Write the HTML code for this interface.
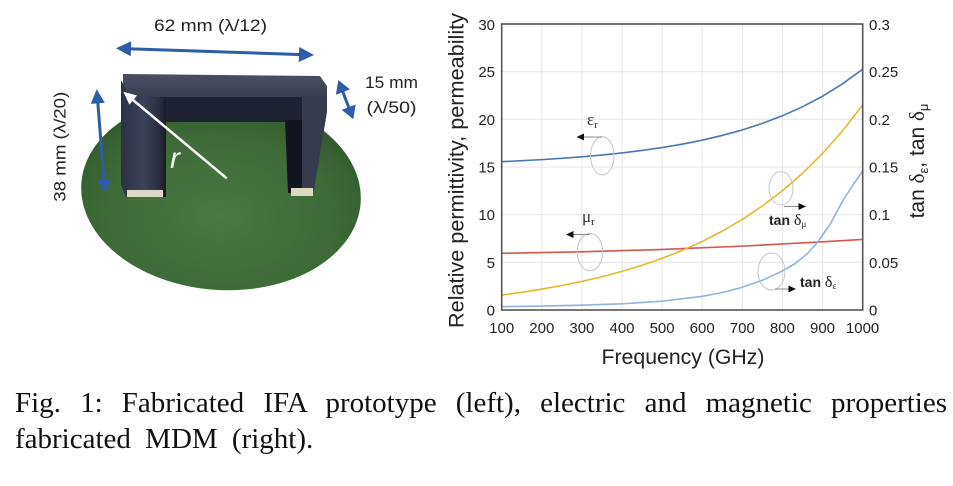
<!DOCTYPE html>
<html><head><meta charset="utf-8">
<style>
html,body{margin:0;padding:0;background:#fff;}
body{width:953px;height:486px;position:relative;overflow:hidden;}
svg{position:absolute;left:0;top:0;}
.cap{position:absolute;left:15px;font-family:"Liberation Serif",serif;font-size:29px;color:#111;line-height:29px;}
#l1{top:389px;width:932px;text-align:justify;text-align-last:justify;}
#l2{top:425px;white-space:nowrap;word-spacing:7px;}
</style></head><body>
<svg width="953" height="486" viewBox="0 0 953 486" xmlns="http://www.w3.org/2000/svg">
<defs>
<radialGradient id="disc" cx="0.5" cy="0.62" r="0.6">
<stop offset="0" stop-color="#487a41"/>
<stop offset="0.7" stop-color="#3d6a37"/>
<stop offset="1" stop-color="#315a2c"/>
</radialGradient>
<linearGradient id="legL" x1="0" y1="0" x2="1" y2="0">
<stop offset="0" stop-color="#2c3144"/>
<stop offset="0.5" stop-color="#3c4256"/>
<stop offset="0.85" stop-color="#2a2e40"/>
<stop offset="1" stop-color="#171a25"/>
</linearGradient>
<linearGradient id="barTop" x1="0" y1="0" x2="0" y2="1">
<stop offset="0" stop-color="#4a4f62"/>
<stop offset="1" stop-color="#393e50"/>
</linearGradient>
</defs>

<!-- ===== Photo (left) ===== -->
<ellipse cx="221" cy="193" rx="140" ry="97" transform="rotate(4 221 193)" fill="url(#disc)"/>

<!-- bridge -->
<polygon points="122,95 327,95 327,110 318,122 122,122" fill="#1f2231"/>
<polygon points="123,74 320,76 327,86 327,97 130,97 123,90" fill="url(#barTop)"/>
<polygon points="302,96 327,96 327,112 314,190 302,193" fill="#363b4e"/>
<polygon points="285,120 302,120 302,193 288,193" fill="#14161f"/>
<polygon points="121,80 130,96 166,97 166,197 126,197 121,185" fill="url(#legL)"/>
<rect x="127" y="190" width="36" height="7" fill="#ddd8c4"/>
<rect x="291" y="188" width="22" height="8" fill="#ddd8c4"/>

<!-- white r arrow -->
<line x1="226.7" y1="178.3" x2="133" y2="100" stroke="#fff" stroke-width="2.5"/>
<polygon points="123.3,91.7 137.1,95.45 129.4,104.65" fill="#fff"/>
<text x="170" y="168" font-family="Liberation Sans, sans-serif" font-style="italic" font-size="30" fill="#f4f4f4">r</text>

<!-- blue dimension arrows -->
<g fill="#2d5da6" stroke="none">
<line x1="128" y1="48.7" x2="302" y2="54.6" stroke="#2d5da6" stroke-width="3"/>
<polygon points="116,48.3 130.75,56.3 131.25,41.3"/>
<polygon points="314,55 298.75,62 299.25,47"/>
<line x1="97.6" y1="100" x2="104.1" y2="182" stroke="#2d5da6" stroke-width="3"/>
<polygon points="96.7,89.3 90.8,103.9 104.8,102.7"/>
<polygon points="105,193.3 96.9,179.9 110.9,178.7"/>
<line x1="341" y1="87" x2="350.6" y2="112.3" stroke="#2d5da6" stroke-width="3"/>
<polygon points="338.3,80 335.9,94.8 349.9,89.4"/>
<polygon points="353.3,119.3 341.7,109.9 355.7,104.5"/>
</g>
<g font-family="Liberation Sans, sans-serif" fill="#222">
<text x="154" y="31" font-size="17" textLength="113" lengthAdjust="spacingAndGlyphs">62 mm (λ/12)</text>
<text transform="translate(65.5,146.7) rotate(-90)" text-anchor="middle" font-size="17" textLength="110" lengthAdjust="spacingAndGlyphs">38 mm (λ/20)</text>
<text x="365" y="88" font-size="17" textLength="53" lengthAdjust="spacingAndGlyphs">15 mm</text>
<text x="366.5" y="113" font-size="17" textLength="50" lengthAdjust="spacingAndGlyphs">(λ/50)</text>
</g>

<!-- ===== Chart (right) ===== -->
<g stroke="#e6e6e6" stroke-width="1">
<line x1="541.8" y1="24" x2="541.8" y2="310"/>
<line x1="581.9" y1="24" x2="581.9" y2="310"/>
<line x1="622" y1="24" x2="622" y2="310"/>
<line x1="662.1" y1="24" x2="662.1" y2="310"/>
<line x1="702.2" y1="24" x2="702.2" y2="310"/>
<line x1="742.3" y1="24" x2="742.3" y2="310"/>
<line x1="782.4" y1="24" x2="782.4" y2="310"/>
<line x1="822.5" y1="24" x2="822.5" y2="310"/>
<line x1="501.7" y1="71.7" x2="862.7" y2="71.7"/>
<line x1="501.7" y1="119.3" x2="862.7" y2="119.3"/>
<line x1="501.7" y1="167" x2="862.7" y2="167"/>
<line x1="501.7" y1="214.7" x2="862.7" y2="214.7"/>
<line x1="501.7" y1="262.3" x2="862.7" y2="262.3"/>
</g>

<!-- curves -->
<g fill="none" stroke-width="1.6" stroke-linejoin="round">
<path stroke="#4a78b0" d="M501.7,161.66 L521.75,160.73 L541.8,159.62 L561.85,158.33 L581.9,156.82 L601.95,155.03 L622,152.93 L642.05,150.46 L662.1,147.56 L682.15,144.16 L702.2,140.16 L722.25,135.45 L742.3,129.92 L762.35,123.41 L782.4,115.78 L802.45,106.8 L822.5,96.24 L842.55,83.83 L862.6,69.26"/>
<path stroke="#d4574e" d="M501.7,253.3 L581.9,251.85 L662.1,249.46 L742.3,246.13 L822.5,241.84 L862.6,239.45"/>
<path stroke="#e2b92e" d="M501.7,295.03 L521.75,292.27 L541.8,289.1 L561.85,285.51 L581.9,281.4 L601.95,276.72 L622,271.38 L642.05,265.3 L662.1,258.36 L682.15,250.45 L702.2,241.42 L722.25,231.13 L742.3,219.4 L762.35,206.01 L782.4,190.76 L802.45,173.36 L822.5,153.52 L842.55,130.9 L862.6,105.1"/>
<path stroke="#93b3dc" d="M501.7,306.7 L541.8,306.1 L581.9,305.2 L622,303.8 L662.1,301.2 L702.2,296.3 L722.25,292.6 L742.3,287.3 L762.35,280.3 L782.4,271 L794.5,264 L806.5,254.5 L817,243 L830.6,223.5 L842.55,201 L852,186.5 L862.6,171"/>
</g>

<rect x="501.7" y="24" width="361" height="286" fill="none" stroke="#555" stroke-width="1.6"/>

<!-- annotations -->
<g fill="none" stroke="#c6c6c6" stroke-width="1">
<ellipse cx="602.3" cy="155.8" rx="11.7" ry="19.2"/>
<ellipse cx="590" cy="252" rx="12.7" ry="18.8"/>
<ellipse cx="781" cy="188.3" rx="12" ry="16.7"/>
<ellipse cx="771.5" cy="271.5" rx="13.5" ry="18.5"/>
</g>
<g stroke="#888" stroke-width="1">
<line x1="602" y1="137" x2="583" y2="137"/>
<line x1="590" y1="234.5" x2="573" y2="234.5"/>
<line x1="784" y1="206.5" x2="799" y2="206.5"/>
<line x1="775" y1="289" x2="789" y2="289"/>
</g>
<g fill="#111">
<polygon points="576.5,137 584,133.5 584,140.5"/>
<polygon points="566,234.5 573.5,231 573.5,238"/>
<polygon points="806,206.5 798.5,203 798.5,210"/>
<polygon points="796,289 788.5,285.5 788.5,292.5"/>
</g>
<g fill="#333">
<text x="587" y="125" font-family="Liberation Serif, serif" font-size="17">ε<tspan font-size="11" dy="3">r</tspan></text>
<text x="582" y="222" font-family="Liberation Serif, serif" font-size="17">μ<tspan font-size="11" dy="3">r</tspan></text>
<text x="769" y="225" font-family="Liberation Sans, sans-serif" font-size="14" font-weight="bold" fill="#222">tan <tspan font-family="Liberation Serif, serif" font-weight="normal" font-size="16">δ</tspan><tspan font-family="Liberation Serif, serif" font-weight="normal" font-size="9" dy="2">μ</tspan></text>
<text x="800" y="287" font-family="Liberation Sans, sans-serif" font-size="14" font-weight="bold" fill="#222">tan <tspan font-family="Liberation Serif, serif" font-weight="normal" font-size="16">δ</tspan><tspan font-family="Liberation Serif, serif" font-weight="normal" font-size="9" dy="2">ε</tspan></text>
</g>

<!-- tick labels -->
<g font-family="Liberation Sans, sans-serif" font-size="15" fill="#222">
<g text-anchor="end">
<text x="495" y="30">30</text>
<text x="495" y="77.2">25</text>
<text x="495" y="124.8">20</text>
<text x="495" y="172.5">15</text>
<text x="495" y="220.2">10</text>
<text x="495" y="267.8">5</text>
<text x="495" y="315.5">0</text>
</g>
<g text-anchor="start">
<text x="869" y="30">0.3</text>
<text x="869" y="77.2">0.25</text>
<text x="869" y="124.8">0.2</text>
<text x="869" y="172.5">0.15</text>
<text x="869" y="220.2">0.1</text>
<text x="869" y="267.8">0.05</text>
<text x="869" y="315.5">0</text>
</g>
<g text-anchor="middle">
<text x="501.7" y="333">100</text>
<text x="541.8" y="333">200</text>
<text x="581.9" y="333">300</text>
<text x="622" y="333">400</text>
<text x="662.1" y="333">500</text>
<text x="702.2" y="333">600</text>
<text x="742.3" y="333">700</text>
<text x="782.4" y="333">800</text>
<text x="822.5" y="333">900</text>
<text x="862.6" y="333">1000</text>
</g>
</g>

<!-- axis titles -->
<g font-family="Liberation Sans, sans-serif" font-size="21" fill="#222">
<text x="683" y="364" text-anchor="middle" textLength="163" lengthAdjust="spacingAndGlyphs">Frequency (GHz)</text>
<text transform="translate(463.5,170.5) rotate(-90)" text-anchor="middle" textLength="315" lengthAdjust="spacingAndGlyphs">Relative permittivity, permeability</text>
<text transform="translate(924,161) rotate(-90)" text-anchor="middle">tan <tspan font-family="Liberation Serif, serif">δ</tspan><tspan font-size="13" dy="4">ε</tspan><tspan dy="-4">, tan </tspan><tspan font-family="Liberation Serif, serif">δ</tspan><tspan font-size="13" dy="4">μ</tspan></text>
</g>
</svg>
<div class="cap" id="l1">Fig. 1: Fabricated IFA prototype (left), electric and magnetic properties</div>
<div class="cap" id="l2">fabricated MDM (right).</div>
</body></html>
